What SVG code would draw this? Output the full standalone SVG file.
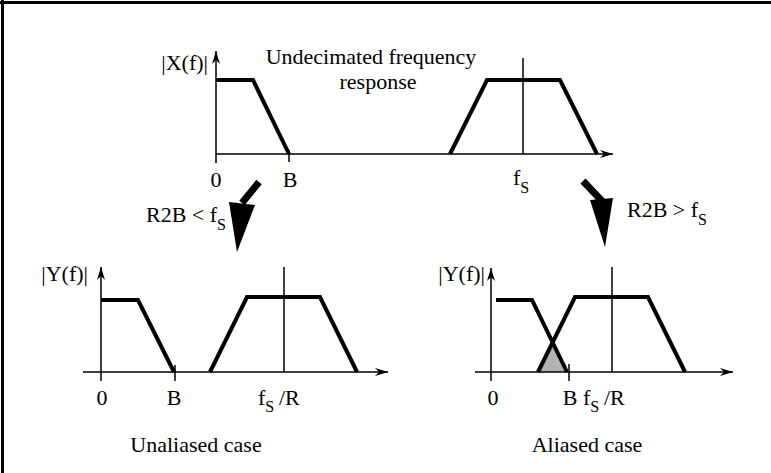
<svg xmlns="http://www.w3.org/2000/svg" width="771" height="473" viewBox="0 0 771 473">
<style>
text{font-family:"Liberation Serif","Times New Roman",serif;font-size:22px;fill:#000}
.ax{stroke:#000;stroke-width:1.5;fill:none}
.axa{stroke:#000;stroke-width:1.5;fill:none;marker-end:url(#ah)}
.fl{stroke:#000;stroke-width:4;fill:none;stroke-linejoin:miter}
.sub{font-size:16px}
.mid{text-anchor:middle}
.end{text-anchor:end}
</style>
<defs>
<marker id="ah" markerUnits="userSpaceOnUse" markerWidth="16" markerHeight="12" viewBox="-14 -6 16 12" refX="0" refY="0" orient="auto">
<path d="M0,0 L-13,-4 L-9,0 L-13,4 Z" fill="#000"/>
</marker>
</defs>
<rect width="771" height="473" fill="#fff"/>
<g id="frame">
<line x1="0" y1="2.5" x2="771" y2="2.5" stroke="#000" stroke-width="3"/>
<line x1="2.5" y1="0" x2="2.5" y2="473" stroke="#000" stroke-width="3"/>
</g>
<g id="undecimated">
<line class="axa" x1="216" y1="163" x2="216" y2="51"/>
<line class="axa" x1="216" y1="154" x2="613" y2="154"/>
<line class="ax" x1="289" y1="150" x2="289" y2="162"/>
<line class="ax" x1="523" y1="58" x2="523" y2="154"/>
<polyline class="fl" points="216,80 253,80 289,154"/>
<polyline class="fl" points="450,154 487,80 560,80 597,154"/>
<text class="end" x="208" y="70">|X(f)|</text>
<text class="mid" x="371" y="64">Undecimated frequency</text>
<text class="mid" x="378" y="89">response</text>
<text class="mid" x="216" y="187">0</text>
<text class="mid" x="290" y="187">B</text>
<text x="513" y="185">f<tspan class="sub" dy="8">S</tspan></text>
</g>
<g id="unaliased">
<line class="axa" x1="101" y1="381" x2="101" y2="267"/>
<line class="axa" x1="83" y1="372" x2="388" y2="372"/>
<line class="ax" x1="175" y1="365" x2="175" y2="381"/>
<line class="ax" x1="284" y1="267" x2="284" y2="372"/>
<polyline class="fl" points="101,300 138,300 174,372"/>
<polyline class="fl" points="210,372 247,297 320,297 357,372"/>
<text class="end" x="88" y="281">|Y(f)|</text>
<text class="mid" x="102" y="405">0</text>
<text class="mid" x="174" y="405">B</text>
<text x="258" y="405">f<tspan class="sub" dy="7">S</tspan><tspan x="279" dy="-7">/R</tspan></text>
<text class="mid" x="196" y="452">Unaliased case</text>
</g>
<g id="aliased">
<polygon points="538,372 552.6,342.4 567,372" fill="#b3b3b3"/>
<line class="axa" x1="491" y1="381" x2="491" y2="268"/>
<line class="axa" x1="475" y1="372" x2="733" y2="372"/>
<line class="ax" x1="569" y1="364" x2="569" y2="381"/>
<line class="ax" x1="612" y1="267" x2="612" y2="372"/>
<polyline class="fl" points="496,300 532,300 567,372"/>
<polyline class="fl" points="538,372 575,297 648,297 685,372"/>
<text class="end" x="485" y="281">|Y(f)|</text>
<text class="mid" x="493" y="405">0</text>
<text class="mid" x="570" y="405">B</text>
<text x="583" y="405">f<tspan class="sub" dy="7">S</tspan><tspan x="604" dy="-7">/R</tspan></text>
<text class="mid" x="587" y="452">Aliased case</text>
</g>
<g id="connectors">
<line x1="259" y1="182" x2="242" y2="203" stroke="#000" stroke-width="7"/>
<polygon points="229,202 255,205 237,252" fill="#000"/>
<text x="146" y="222">R2B &lt; f<tspan class="sub" dy="8">S</tspan></text>
<line x1="583" y1="181" x2="602" y2="201" stroke="#000" stroke-width="7"/>
<polygon points="590,200 613,198 605,247" fill="#000"/>
<text x="627" y="217">R2B &gt; f<tspan class="sub" dy="8">S</tspan></text>
</g>
</svg>
